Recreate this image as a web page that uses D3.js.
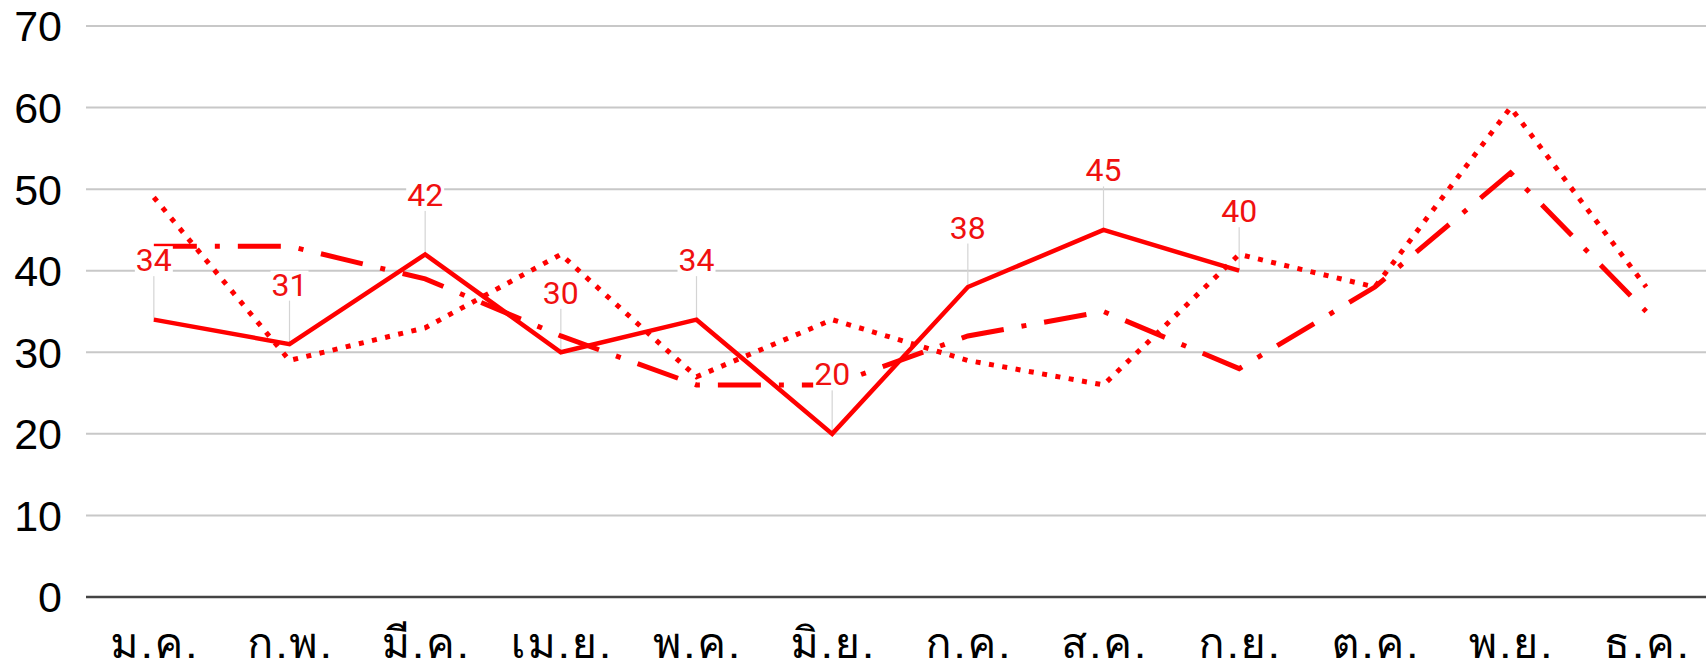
<!DOCTYPE html>
<html>
<head>
<meta charset="utf-8">
<script src="https://cdn.jsdelivr.net/npm/d3@7"></script>
<style>
  body { margin: 0; background: #fff; }
  svg { display: block; }
</style>
</head>
<body>
<div id="chart"></div>
<script>
const months = ['ม.ค.', 'ก.พ.', 'มี.ค.', 'เม.ย.', 'พ.ค.', 'มิ.ย.', 'ก.ค.', 'ส.ค.', 'ก.ย.', 'ต.ค.', 'พ.ย.', 'ธ.ค.']
const solidValues = [34, 31, 42, 30, 34, 20, 38, 45, 40, null, null, null]
const dottedValues = [49, 29, 33, 42, 27, 34, 29, 26, 42, 38, 60, 38]
const dashDotValues = [43, 43, 39, 32, 26, 26, 32, 35, 28, 38, 52, 35]
const yTicks = [0, 10, 20, 30, 40, 50, 60, 70]

const width = 1706
const height = 665
const red = '#ff0000'

const svg = d3.select('#chart')
  .append('svg')
  .attr('width', width)
  .attr('height', height)

const x = d3.scalePoint()
  .domain(months)
  .range([86, 1714])
  .padding(0.5)

const y = d3.scaleLinear()
  .domain([0, 70])
  .range([597, 26])

// grid
svg.append('g')
  .selectAll('line')
  .data(yTicks.filter(d => d > 0))
  .join('line')
  .attr('x1', 86)
  .attr('x2', width)
  .attr('y1', d => y(d))
  .attr('y2', d => y(d))
  .style('stroke', '#c8c8c8')
  .style('stroke-width', 2)

// y labels
svg.append('g')
  .selectAll('text')
  .data(yTicks)
  .join('text')
  .attr('x', 62)
  .attr('y', d => y(d))
  .attr('dy', '0.36em')
  .attr('text-anchor', 'end')
  .style('font-family', '"Liberation Sans", Arial, sans-serif')
  .style('font-size', '43px')
  .style('fill', '#000')
  .text(d => d)

// baseline
svg.append('line')
  .attr('x1', 86)
  .attr('x2', width)
  .attr('y1', y(0))
  .attr('y2', y(0))
  .style('stroke', '#444')
  .style('stroke-width', 2.5)

// x labels
svg.append('g')
  .selectAll('text')
  .data(months)
  .join('text')
  .attr('x', d => x(d) + 1)
  .attr('y', 658)
  .attr('text-anchor', 'middle')
  .style('font-family', 'Loma, Garuda, "Noto Sans Thai Looped", "Noto Sans Thai", "Noto Sans", sans-serif')
  .style('font-size', '43px')
  .style('font-weight', 300)
  .style('letter-spacing', '2px')
  .style('fill', '#000')
  .text(d => d)

const labelOffset = 60
const labelled = months.map((m, i) => ({ m, v: solidValues[i] })).filter(d => d.v != null)

// leader lines
svg.append('g')
  .selectAll('line')
  .data(labelled)
  .join('line')
  .attr('x1', d => x(d.m))
  .attr('x2', d => x(d.m))
  .attr('y1', d => y(d.v))
  .attr('y2', d => y(d.v) - labelOffset + 13)
  .style('stroke', '#d4d4d4')
  .style('stroke-width', 1.2)

function series(values, dash, w) {
  const line = d3.line()
    .defined(d => d != null)
    .x((d, i) => x(months[i]))
    .y(d => y(d))
  svg.append('path')
    .datum(values)
    .attr('d', line)
    .style('fill', 'none')
    .style('stroke', red)
    .style('stroke-width', w)
    .style('stroke-dasharray', dash)
    .style('stroke-linejoin', 'miter')
}

series(dottedValues, '5 8.5', 5)
series(dashDotValues, '43 18 5 18', 5)
series(solidValues, null, 4.5)

// data labels with white box
const labels = svg.append('g')
  .selectAll('g')
  .data(labelled)
  .join('g')
  .attr('transform', d => `translate(${x(d.m)}, ${y(d.v) - labelOffset})`)

labels.append('rect')
labels.append('text')
  .attr('text-anchor', 'middle')
  .attr('dy', '0.36em')
  .style('font-family', 'Roboto, sans-serif')
  .style('font-size', '32px')
  .style('fill', '#f01010')
  .text(d => d.v)

labels.each(function() {
  const g = d3.select(this)
  const b = g.select('text').node().getBBox()
  g.select('rect')
    .attr('x', b.x - 1)
    .attr('y', b.y + 5)
    .attr('width', b.width + 2)
    .attr('height', b.height - 8)
    .style('fill', '#fff')
})
</script>
</body>
</html>
